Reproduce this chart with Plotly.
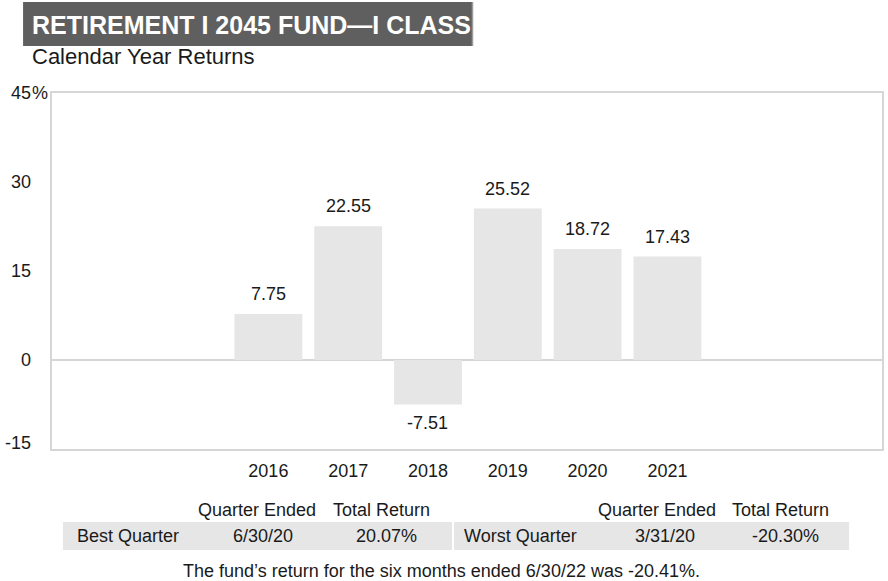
import plotly.graph_objects as go

# ---- data ----
years = ["2016", "2017", "2018", "2019", "2020", "2021"]
returns = [7.75, 22.55, -7.51, 25.52, 18.72, 17.43]
y_ticks = [-15, 0, 15, 30, 45]
y_tick_labels = ["-15", "0", "15", "30", "45%"]

title_text = "RETIREMENT I 2045 FUND\u2014I CLASS"
subtitle_text = "Calendar Year Returns"
table_header = ["Quarter Ended", "Total Return"]
best_row = ["Best Quarter", "6/30/20", "20.07%"]
worst_row = ["Worst Quarter", "3/31/20", "-20.30%"]
footnote = "The fund\u2019s return for the six months ended 6/30/22 was -20.41%."

# ---- layout geometry (pixels) ----
W, H = 888, 581
L, R, T, B = 52, 884, 93, 449

def px(x):
    return (x - L) / (R - L)

def py(y):
    return (B - y) / (B - T)

FONT = "Liberation Sans, Arial, Helvetica, sans-serif"
TXT = "#1a1a1a"
GRAY = "#e6e6e6"
BORDER = "#d6d6d6"

fig = go.Figure()
fig.add_trace(go.Bar(
    x=years, y=returns, width=0.85,
    marker=dict(color=GRAY, line=dict(width=0)),
    hoverinfo="skip",
))

annotations = []
# bar value labels
for i, (yr, v) in enumerate(zip(years, returns)):
    annotations.append(dict(
        x=i, y=v, xref="x", yref="y", text=f"{v:.2f}", showarrow=False,
        xanchor="center", yanchor="middle", yshift=20 if v >= 0 else -18,
        font=dict(size=18, color=TXT, family=FONT),
    ))

# y tick labels (right aligned numbers, % hangs)
for tv, tl in zip(y_ticks, y_tick_labels):
    num = tl.rstrip("%")
    annotations.append(dict(
        x=px(33), y=tv, xref="paper", yref="y", text=num, showarrow=False,
        xanchor="right", yanchor="middle", yshift=6 if tv == y_ticks[0] else 0,
        font=dict(size=18, color=TXT, family=FONT),
    ))
    if tl.endswith("%"):
        annotations.append(dict(
            x=px(29.5), y=tv, xref="paper", yref="y", text="%", showarrow=False,
            xanchor="left", yanchor="middle",
            font=dict(size=18, color=TXT, family=FONT),
        ))

def ptxt(x, y, text, anchor="center", size=18, color=TXT, bold=False):
    annotations.append(dict(
        x=px(x), y=py(y), xref="paper", yref="paper", text=text,
        showarrow=False, xanchor=anchor, yanchor="middle",
        font=dict(size=size, color=color, family=FONT, weight="bold" if bold else "normal"),
    ))

# title and subtitle
ptxt(30, 25, title_text, anchor="left", size=25, color="white", bold=True)
ptxt(30, 57, subtitle_text, anchor="left", size=22)

# table headers
ptxt(257.5, 510, table_header[0])
ptxt(382, 510, table_header[1])
ptxt(658, 510, table_header[0])
ptxt(782, 510, table_header[1])
# table rows
ptxt(75, 536, best_row[0], anchor="left")
ptxt(263.5, 536, best_row[1])
ptxt(387, 536, best_row[2])
ptxt(463, 536, worst_row[0], anchor="left")
ptxt(666, 536, worst_row[1])
ptxt(787.5, 536, worst_row[2])
# footnote
ptxt(442.5, 571, footnote)

shapes = [
    # title box
    dict(type="rect", xref="paper", yref="paper", x0=px(23), x1=px(474), y0=py(2), y1=py(46),
         fillcolor="#5f5f5f", line=dict(width=0), layer="below"),
    dict(type="line", xref="paper", yref="paper", x0=px(473.5), x1=px(473.5), y0=py(2), y1=py(46),
         line=dict(color="#9a9a9a", width=1.5)),
    # table bands
    dict(type="rect", xref="paper", yref="paper", x0=px(63), x1=px(453), y0=py(522), y1=py(550),
         fillcolor=GRAY, line=dict(width=0), layer="below"),
    dict(type="rect", xref="paper", yref="paper", x0=px(455), x1=px(851), y0=py(522), y1=py(550),
         fillcolor=GRAY, line=dict(width=0), layer="below"),
]

fig.update_layout(
    width=W, height=H,
    margin=dict(l=L, r=W - R, t=T, b=H - B),
    paper_bgcolor="white", plot_bgcolor="white",
    showlegend=False,
    annotations=annotations, shapes=shapes,
    font=dict(family=FONT, size=18, color=TXT),
    xaxis=dict(
        type="category", categoryorder="array", categoryarray=years,
        range=[-2.711, 7.689], showgrid=False, zeroline=False,
        showline=True, mirror=True, linecolor=BORDER, linewidth=2,
        ticks="", tickfont=dict(size=18, color=TXT, family=FONT),
        ticklabelstandoff=4, fixedrange=True,
    ),
    yaxis=dict(
        range=[-15, 45], tickvals=y_ticks, showticklabels=False,
        showgrid=False, zeroline=True, zerolinecolor=BORDER, zerolinewidth=1.5,
        showline=True, mirror=True, linecolor=BORDER, linewidth=2,
        ticks="", fixedrange=True,
    ),
    bargap=0.15,
)

fig.write_html(
    "out.html",
    config={"displayModeBar": False},
    post_script="document.body.style.margin='0';document.body.style.overflow='hidden';",
)
